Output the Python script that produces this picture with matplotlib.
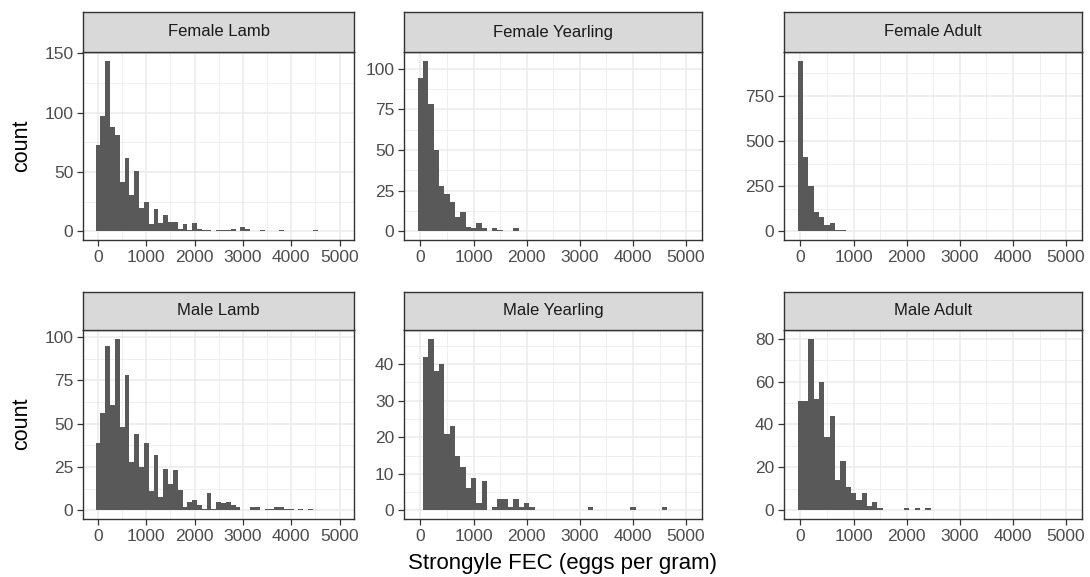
import matplotlib
matplotlib.use("Agg")
import matplotlib.pyplot as plt
import numpy as np

plt.rcParams['font.family'] = ['Liberation Sans', 'DejaVu Sans']

BIN_WIDTH = 100
panel_titles = ["Female Lamb", "Female Yearling", "Female Adult",
                "Male Lamb", "Male Yearling", "Male Adult"]

female_lamb = [73, 97, 144, 88, 81, 42, 62, 31, 51, 20, 25, 6, 19, 7, 14, 8, 8, 2, 6, 1,
               7, 2, 1, 1, 0, 1, 1, 1, 2, 0, 4, 2, 0, 0, 1, 0, 0, 0, 1, 0,
               0, 0, 0, 0, 0, 1]
female_yearling = [94, 105, 78, 50, 28, 23, 18, 9, 12, 3, 2, 5, 2, 0, 2, 1, 0, 0, 2]
female_adult = [944, 409, 249, 107, 82, 35, 44, 8, 6, 4]
male_lamb = [39, 56, 95, 61, 99, 48, 78, 28, 44, 25, 39, 11, 32, 8, 24, 15, 23, 12, 2, 5,
             6, 3, 1, 10, 1, 5, 4, 5, 3, 2, 0, 0, 2, 2, 0, 1, 1, 2, 2, 1,
             1, 0, 1, 0, 1]
male_yearling = [0, 42, 47, 38, 40, 21, 23, 15, 12, 6, 9, 2, 8, 0, 1, 3, 3, 1, 3, 1,
                 2, 1, 0, 0, 0, 0, 0, 0, 0, 0, 0, 0, 1, 0, 0, 0, 0, 0, 0, 0,
                 1, 0, 0, 0, 0, 0, 1]
male_adult = [51, 51, 80, 52, 60, 34, 44, 14, 23, 11, 8, 5, 8, 2, 4, 1, 0, 0, 0, 0,
              1, 0, 1, 0, 1]

panel_counts = [female_lamb, female_yearling, female_adult,
                male_lamb, male_yearling, male_adult]

x_ticks = [0, 1000, 2000, 3000, 4000, 5000]
y_ticks = [[0, 50, 100, 150], [0, 25, 50, 75, 100], [0, 250, 500, 750],
           [0, 25, 50, 75, 100], [0, 10, 20, 30, 40], [0, 20, 40, 60, 80]]

W, H = 1090, 577
fig = plt.figure(figsize=(W / 100, H / 100), dpi=100)

col_x = [(83, 354), (404, 702), (784, 1082)]
row_y = [(12, 52, 240), (292, 330, 519)]  # strip top, panel top, panel bottom

BAR_COLOR = "#595959"
BORDER = "#333333"
GRID = "#EBEBEB"
XLIM = (-310, 5300)

def fig_rect(x0, y0, x1, y1):
    return [x0 / W, 1 - y1 / H, (x1 - x0) / W, (y1 - y0) / H]

for i, (title, counts) in enumerate(zip(panel_titles, panel_counts)):
    r, c = divmod(i, 3)
    x0, x1 = col_x[c]
    st, pt, pb = row_y[r]
    ax = fig.add_axes(fig_rect(x0, pt, x1, pb))
    centers = np.arange(len(counts)) * BIN_WIDTH
    ax.bar(centers, counts, width=BIN_WIDTH, color=BAR_COLOR, linewidth=0, zorder=3)
    ymax = max(counts)
    ax.set_xlim(*XLIM)
    ax.set_ylim(-0.05 * ymax, 1.05 * ymax)
    ax.set_xticks(x_ticks)
    ax.set_xticklabels([str(t) for t in x_ticks])
    yt = y_ticks[i]
    ax.set_yticks(yt)
    ax.set_yticklabels([str(t) for t in yt])
    step = yt[1] - yt[0]
    yminor = [t + step / 2 for t in yt] + [yt[0] - step / 2]
    yminor = [v for v in yminor if -0.05 * ymax < v < 1.05 * ymax]
    ax.set_yticks(yminor, minor=True)
    ax.set_xticks([t + 500 for t in x_ticks[:-1]], minor=True)
    ax.grid(True, which='major', color=GRID, linewidth=1.1, zorder=0)
    ax.grid(True, which='minor', color=GRID, linewidth=0.55, zorder=0)
    ax.tick_params(which='minor', length=0)
    ax.tick_params(which='major', length=4, width=0.9, color=BORDER,
                   labelsize=12.5, labelcolor="#4D4D4D", pad=3)
    for sp in ax.spines.values():
        sp.set_color(BORDER)
        sp.set_linewidth(1.0)
    ax.set_axisbelow(True)
    # strip
    sax = fig.add_axes(fig_rect(x0, st, x1, pt))
    sax.set_facecolor("#D9D9D9")
    sax.set_xticks([])
    sax.set_yticks([])
    for sp in sax.spines.values():
        sp.set_color(BORDER)
        sp.set_linewidth(1.0)
    sax.text(0.5, 0.5, title, ha='center', va='center', fontsize=12,
             color="#1A1A1A", transform=sax.transAxes)

fig.text(22 / W, 1 - 146 / H, "count", rotation=90, ha='center', va='center', fontsize=15.5)
fig.text(22 / W, 1 - 424 / H, "count", rotation=90, ha='center', va='center', fontsize=15.5)
fig.text(562 / W, 1 - 563 / H, "Strongyle FEC (eggs per gram)", ha='center', va='center',
         fontsize=16)

fig.savefig("out.png", dpi=100, facecolor="white")
